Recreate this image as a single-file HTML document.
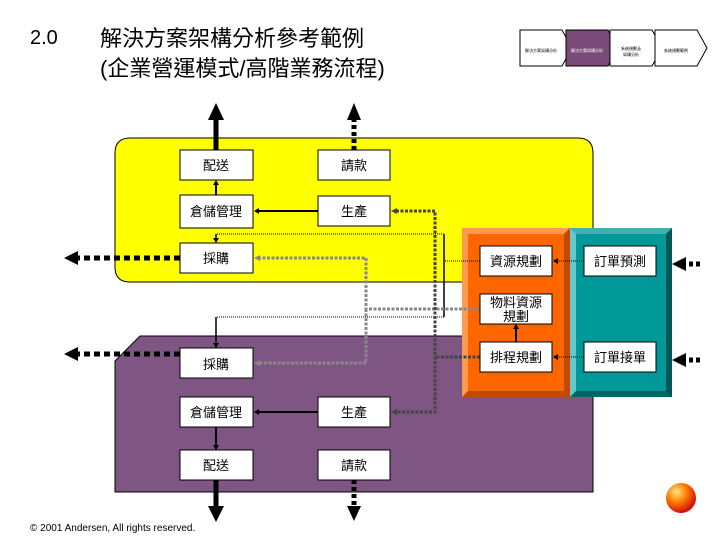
<!DOCTYPE html>
<html><head><meta charset="utf-8"><style>
body{margin:0;background:#fff;}
svg text{font-family:"Liberation Sans","Noto Sans CJK TC",sans-serif;}
</style></head><body>
<svg width="720" height="540" xmlns="http://www.w3.org/2000/svg">
<defs>
<radialGradient id="ball" cx="0.35" cy="0.3" r="0.7"><stop offset="0" stop-color="#ffe680"/><stop offset="0.5" stop-color="#ff7a00"/><stop offset="1" stop-color="#d01010"/></radialGradient>
</defs>
<text x="30" y="44" font-size="20">2.0</text>
<text x="100" y="46" font-size="22">解決方案架構分析參考範例</text>
<text x="100" y="76" font-size="22">(企業營運模式/高階業務流程)</text>
<g stroke="#000" stroke-width="1">
<path d="M520,30h42l10,18l-10,18h-42z" fill="#fff"/>
<path d="M566,30h42l10,18l-10,18h-42z" fill="#7a4a78"/>
<path d="M610,30h42l10,18l-10,18h-42z" fill="#fff"/>
<path d="M655,30h42l10,18l-10,18h-42z" fill="#fff"/>
</g>
<g font-size="4" text-anchor="middle"><text x="541" y="52">解決方案架構分析</text><text x="587" y="52" fill="#fff">解決方案架構分析</text><text x="631" y="50">系統規劃及</text><text x="631" y="56">架構分析</text><text x="676" y="52">系統規劃範例</text></g>
<path d="M130,138H578Q593,138 593,153V282H130Q115,282 115,267V153Q115,138 130,138z" fill="#ffff00" stroke="#000"/>
<path d="M140,336H593V492H115V361z" fill="#7f5683" stroke="#000"/>
<rect x="462" y="228" width="108" height="169" fill="#ff6600"/>
<path d="M462,228h108l-6,6h-96z" fill="#ff9a50"/><path d="M462,228v169l6,-6v-157z" fill="#ff9a50"/>
<path d="M462,397h108l-6,-6h-96z" fill="#c04a00"/><path d="M570,228v169l-6,-6v-157z" fill="#c04a00"/>
<rect x="570" y="228" width="102" height="169" fill="#009999"/>
<path d="M570,228h102l-6,6h-90z" fill="#40b0b0"/><path d="M570,228v169l6,-6v-157z" fill="#66c8c8"/>
<path d="M570,397h102l-6,-6h-90z" fill="#006666"/><path d="M672,228v169l-6,-6v-157z" fill="#005555"/>
<g fill="none">
<line x1="216" y1="150" x2="216" y2="118" stroke="#000" stroke-width="5"/>
<path d="M208,120L216,103L224,120z" fill="#000"/>
<line x1="354" y1="150" x2="354" y2="120" stroke="#000" stroke-width="5" stroke-dasharray="4,3"/>
<path d="M347,120L354,103L361,120z" fill="#000"/>
<line x1="216" y1="480" x2="216" y2="510" stroke="#000" stroke-width="5"/>
<path d="M208,506L216,522L224,506z" fill="#000"/>
<line x1="354" y1="480" x2="354" y2="508" stroke="#000" stroke-width="5" stroke-dasharray="4,3"/>
<path d="M347,506L354,521L361,506z" fill="#000"/>
<line x1="180" y1="258" x2="76" y2="258" stroke="#000" stroke-width="5" stroke-dasharray="6,4"/>
<path d="M78,251L64,258L78,265z" fill="#000"/>
<line x1="180" y1="354" x2="76" y2="354" stroke="#000" stroke-width="5" stroke-dasharray="6,4"/>
<path d="M78,347L64,354L78,361z" fill="#000"/>
<line x1="700" y1="264" x2="686" y2="264" stroke="#000" stroke-width="5" stroke-dasharray="4,3"/>
<path d="M686,257L672,264L686,271z" fill="#000"/>
<line x1="700" y1="360" x2="686" y2="360" stroke="#000" stroke-width="5" stroke-dasharray="4,3"/>
<path d="M686,353L672,360L686,367z" fill="#000"/>
<!-- solid small -->
<line x1="216" y1="195" x2="216" y2="184" stroke="#000" stroke-width="2"/><path d="M213,185L216,180L219,185z" fill="#000"/>
<line x1="318" y1="211" x2="258" y2="211" stroke="#000" stroke-width="2"/><path d="M259,208L254,211L259,214z" fill="#000"/>
<line x1="318" y1="412" x2="258" y2="412" stroke="#000" stroke-width="2"/><path d="M259,409L254,412L259,415z" fill="#000"/>
<line x1="216" y1="427" x2="216" y2="446" stroke="#000" stroke-width="2"/><path d="M213,445L216,450L219,445z" fill="#000"/>
<line x1="516" y1="342" x2="516" y2="328" stroke="#000" stroke-width="2"/><path d="M513,329L516,324L519,329z" fill="#000"/>
<!-- thin dotted -->
<path d="M480,261H444" stroke="#000" stroke-dasharray="1,1"/>
<path d="M444,234V317" stroke="#000" stroke-width="1.5"/>
<path d="M444,234H216" stroke="#000" stroke-dasharray="1,1"/>
<line x1="216" y1="234" x2="216" y2="239" stroke="#000" stroke-width="1.5"/><path d="M213,238L216,243L219,238z" fill="#000"/>
<path d="M444,317H216" stroke="#000" stroke-dasharray="1,1"/>
<line x1="216" y1="317" x2="216" y2="344" stroke="#000" stroke-width="1.5"/><path d="M213,343L216,348L219,343z" fill="#000"/>
<path d="M584,261H557" stroke="#000" stroke-dasharray="1,1"/><path d="M558,258L553,261L558,264z" fill="#000"/>
<path d="M584,357H557" stroke="#000" stroke-dasharray="1,1"/><path d="M558,354L553,357L558,360z" fill="#000"/>
<!-- gray dashed -->
<path d="M480,309H366V258H259" stroke="#888" stroke-width="3" stroke-dasharray="3,1.5"/>
<path d="M366,309V363H259" stroke="#888" stroke-width="3" stroke-dasharray="3,1.5"/>
<path d="M260,255L254,258L260,261z" fill="#888"/><path d="M260,360L254,363L260,366z" fill="#888"/>
<!-- dark dashed -->
<path d="M396,211H435V412H396" stroke="#444" stroke-width="3" stroke-dasharray="3,1.5"/>
<path d="M480,357H435" stroke="#444" stroke-width="3" stroke-dasharray="3,1.5"/>
<path d="M397,208L391,211L397,214z" fill="#444"/><path d="M397,409L391,412L397,415z" fill="#444"/>
</g>
<g fill="#fff" stroke="#000">
<rect x="180" y="150" width="73" height="30"/><rect x="318" y="150" width="72" height="30"/>
<rect x="180" y="195" width="73" height="33"/><rect x="318" y="196" width="72" height="30"/>
<rect x="180" y="243" width="73" height="30"/>
<rect x="180" y="348" width="73" height="30"/>
<rect x="180" y="397" width="73" height="30"/><rect x="318" y="397" width="72" height="30"/>
<rect x="180" y="450" width="73" height="30"/><rect x="318" y="450" width="72" height="30"/>
<rect x="480" y="246" width="72" height="30"/><rect x="480" y="294" width="72" height="30"/><rect x="480" y="342" width="72" height="30"/>
<rect x="584" y="246" width="72" height="30"/><rect x="584" y="342" width="72" height="30"/>
</g>
<g font-size="13" text-anchor="middle">
<text x="216" y="170">配送</text><text x="354" y="170">請款</text>
<text x="216" y="216">倉儲管理</text><text x="354" y="216">生產</text>
<text x="216" y="263">採購</text>
<text x="216" y="369">採購</text>
<text x="216" y="417">倉儲管理</text><text x="354" y="417">生產</text>
<text x="216" y="470">配送</text><text x="354" y="470">請款</text>
<text x="516" y="266">資源規劃</text>
<text x="516" y="307">物料資源</text><text x="516" y="321">規劃</text>
<text x="516" y="362">排程規劃</text>
<text x="620" y="266">訂單預測</text><text x="620" y="362">訂單接單</text>
</g>
<text x="30" y="531" font-size="10">© 2001 Andersen, All rights reserved.</text>
<circle cx="681" cy="498" r="15" fill="url(#ball)"/>
</svg>
</body></html>
